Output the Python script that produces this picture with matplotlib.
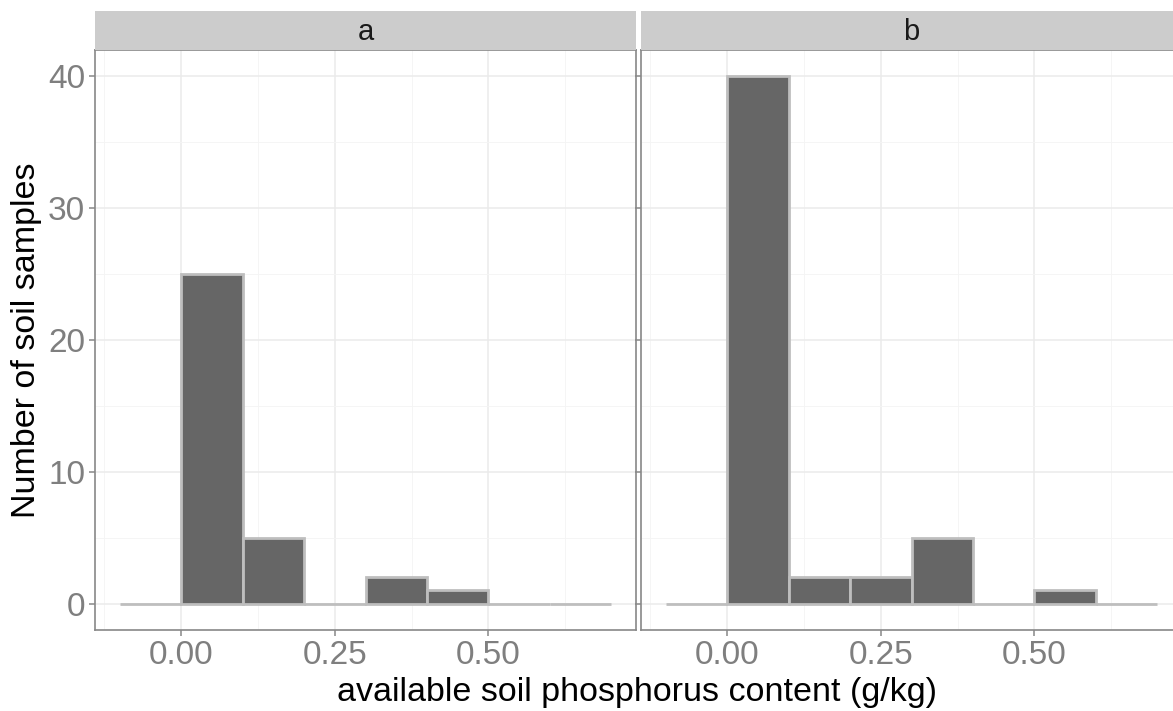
import numpy as np
import matplotlib.pyplot as plt
from matplotlib.ticker import MultipleLocator

plt.rcParams['font.family'] = ['Liberation Sans', 'DejaVu Sans']

# bin edges of the histogram (binwidth 0.1)
bin_edges = [-0.1, 0.0, 0.1, 0.2, 0.3, 0.4, 0.5, 0.6, 0.7]
counts_a = [0, 25, 5, 0, 2, 1, 0, 0]
counts_b = [0, 40, 2, 2, 5, 0, 1, 0]
panels = ['a', 'b']
x_ticks = [0.00, 0.25, 0.50]
x_tick_labels = ['0.00', '0.25', '0.50']
y_ticks = [0, 10, 20, 30, 40]

W, H = 1173, 711
fig = plt.figure(figsize=(W / 100, H / 100), dpi=100)

top, bottom = 50, 630
strip_top = 11
# panel b runs past the right edge of the image (cropped original)
boxes = [(95, 636), (641, 1182)]

for i, (name, counts) in enumerate(zip(panels, [counts_a, counts_b])):
    l, r = boxes[i]
    ax = fig.add_axes([l / W, 1 - bottom / H, (r - l) / W, (bottom - top) / H])
    ax.set_xlim(-0.14, 0.74)
    ax.set_ylim(-2, 42)

    # grid
    ax.xaxis.set_major_locator(MultipleLocator(0.25))
    ax.xaxis.set_minor_locator(MultipleLocator(0.125))
    ax.yaxis.set_major_locator(MultipleLocator(10))
    ax.yaxis.set_minor_locator(MultipleLocator(5))
    ax.grid(True, which='major', color='#EBEBEB', linewidth=1.1)
    ax.grid(True, which='minor', color='#F4F4F4', linewidth=0.6)
    ax.set_axisbelow(True)

    lefts = bin_edges[:-1]
    widths = np.diff(bin_edges)
    ax.bar(lefts, counts, width=widths, align='edge', color='#666666',
           edgecolor='#BEBEBE', linewidth=2.0, zorder=3)

    ax.set_xticks(x_ticks)
    ax.set_xticklabels(x_tick_labels)
    ax.set_yticks(y_ticks)
    ax.tick_params(which='minor', length=0)
    ax.tick_params(which='major', colors='#888888', labelcolor='#7F7F7F',
                   labelsize=24, length=4, width=1.1, direction='out', pad=3)
    if i == 1:
        ax.tick_params(axis='y', labelleft=False)
    for s in ax.spines.values():
        s.set_color('#888888')
        s.set_linewidth(1.2)

    # facet strip
    sax = fig.add_axes([l / W, 1 - top / H, (r - l) / W, (top - strip_top) / H])
    sax.set_xticks([])
    sax.set_yticks([])
    sax.set_facecolor('#CCCCCC')
    for s in sax.spines.values():
        s.set_visible(False)
    sax.text(0.5, 0.45, name, ha='center', va='center', fontsize=21, color='#1A1A1A',
             transform=sax.transAxes)

fig.text(637 / W, 1 - 692 / H, 'available soil phosphorus content (g/kg)',
         ha='center', va='center', fontsize=24.5, color='black')
fig.text(27 / W, 1 - 340 / H, 'Number of soil samples', ha='center', va='center',
         rotation=90, fontsize=24.5, color='black')

fig.savefig('out.png', dpi=100)
